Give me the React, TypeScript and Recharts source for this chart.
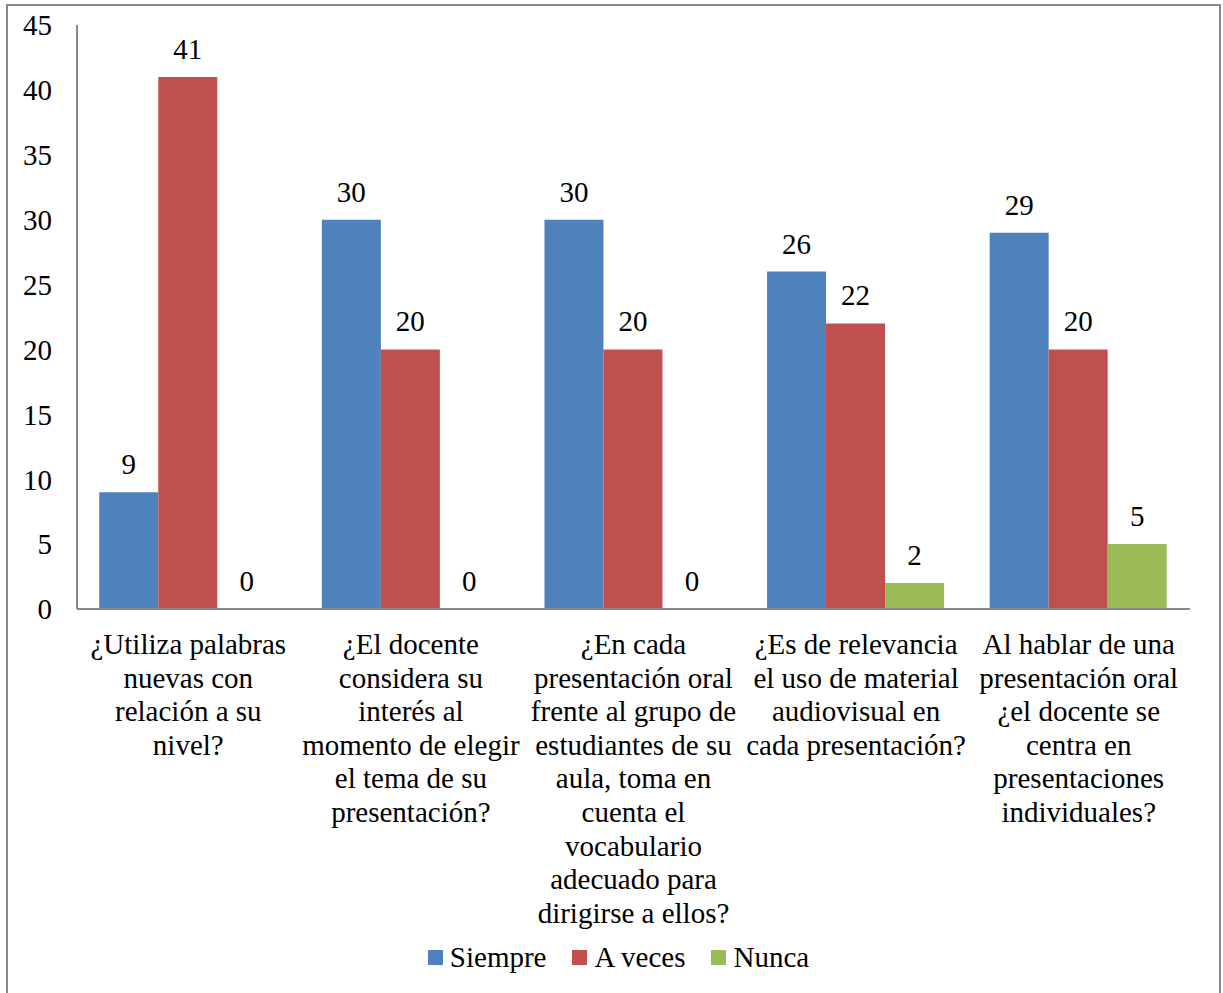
import { BarChart, Bar, XAxis, YAxis, Legend, LabelList } from "recharts"

const categoryLines = [
  ["¿Utiliza palabras", "nuevas con", "relación a su", "nivel?"],
  ["¿El docente", "considera su", "interés al", "momento de elegir", "el tema de su", "presentación?"],
  ["¿En cada", "presentación oral", "frente al grupo de", "estudiantes de su", "aula, toma en", "cuenta el", "vocabulario", "adecuado para", "dirigirse a ellos?"],
  ["¿Es de relevancia", "el uso de material", "audiovisual en", "cada presentación?"],
  ["Al hablar de una", "presentación oral", "¿el docente se", "centra en", "presentaciones", "individuales?"],
]
const categories = categoryLines.map((l) => l.join(" "))
const siempre = [9, 30, 30, 26, 29]
const aVeces = [41, 20, 20, 22, 20]
const nunca = [0, 0, 0, 2, 5]
const yTicks = [0, 5, 10, 15, 20, 25, 30, 35, 40, 45]

const series = [
  { key: "Siempre", color: "#4F81BD" },
  { key: "A veces", color: "#C0504D" },
  { key: "Nunca", color: "#9BBB59" },
]

const data = categories.map((c, i) => ({
  name: c,
  Siempre: siempre[i],
  "A veces": aVeces[i],
  Nunca: nunca[i],
}))

const FONT = "Liberation Serif"
const FS = 29

function CategoryTick(props: any) {
  const { x, y, payload } = props
  const lines = categoryLines[payload.index] || [payload.value]
  return (
    <text x={x} y={y} textAnchor="middle" style={{ fontFamily: FONT, fontSize: FS }} fill="#000">
      {lines.map((ln, i) => (
        <tspan key={i} x={x} y={y + 37 + i * 33.6}>
          {ln}
        </tspan>
      ))}
    </text>
  )
}

function LegendContent() {
  return (
    <div
      style={{
        display: "flex",
        justifyContent: "center",
        alignItems: "center",
        fontFamily: FONT,
        fontSize: FS,
        height: 40,
        paddingLeft: 47,
      }}
    >
      {series.map((s, i) => (
        <div key={s.key} style={{ display: "flex", alignItems: "center", marginLeft: i === 0 ? 0 : 26 }}>
          <span style={{ display: "inline-block", width: 15, height: 15, background: s.color, marginRight: 7 }} />
          <span>{s.key}</span>
        </div>
      ))}
    </div>
  )
}

export default function App() {
  return (
    <div style={{ position: "absolute", left: 0, top: 0, width: 1223, height: 993, background: "#fff", overflow: "hidden", fontFamily: FONT }}>
      <div
        style={{
          position: "absolute",
          left: 6,
          top: 4,
          width: 1211,
          height: 1000,
          border: "2px solid #888",
        }}
      />
      <div style={{ position: "absolute", left: 0, top: 0 }}>
        <BarChart
          width={1223}
          height={993}
          data={data}
          margin={{ top: 25, right: 33, left: 0, bottom: 16 }}
          barCategoryGap="10%"
          barGap={0}
          style={{ fontFamily: FONT }}
        >
          <XAxis
            dataKey="name"
            tick={<CategoryTick />}
            tickLine={false}
            axisLine={{ stroke: "#888", strokeWidth: 2 }}
            height={328}
            interval={0}
          />
          <YAxis
            domain={[0, 45]}
            ticks={yTicks}
            width={77}
            tickLine={false}
            tickSize={0}
            tickMargin={25}
            axisLine={{ stroke: "#888", strokeWidth: 2 }}
            tick={{ fill: "#000", fontSize: FS, fontFamily: FONT }}
          />
          <Legend verticalAlign="bottom" height={40} content={<LegendContent />} />
          {series.map((s) => (
            <Bar key={s.key} dataKey={s.key} fill={s.color} minPointSize={0.01} isAnimationActive={false}>
              <LabelList dataKey={s.key} position="top" offset={18} fill="#000" fontSize={FS} fontFamily={FONT} />
            </Bar>
          ))}
        </BarChart>
      </div>
    </div>
  )
}
